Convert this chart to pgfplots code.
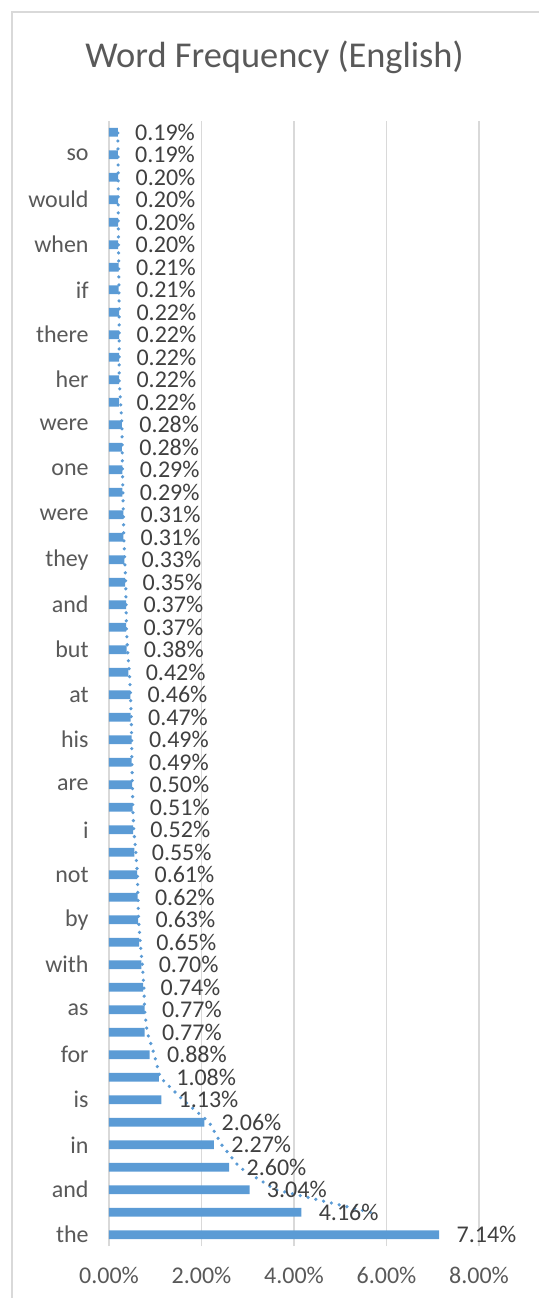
\documentclass[border=0pt]{standalone}
\usepackage{fontspec}
\setmainfont{Carlito}
\usepackage{pgfplots}
\usepackage{pgfplotstable}
\pgfplotsset{compat=1.18}
\usetikzlibrary{calc}
\definecolor{barblue}{HTML}{5B9BD5}
\definecolor{gridgray}{HTML}{D9D9D9}
\definecolor{tickgray}{HTML}{595959}
\definecolor{labelgray}{HTML}{404040}

% rank 0 = most frequent (bottom bar)
\pgfplotstableread{
idx val
0 7.14
1 4.16
2 3.04
3 2.60
4 2.27
5 2.06
6 1.13
7 1.08
8 0.88
9 0.77
10 0.77
11 0.74
12 0.70
13 0.65
14 0.63
15 0.62
16 0.61
17 0.55
18 0.52
19 0.51
20 0.50
21 0.49
22 0.49
23 0.47
24 0.46
25 0.42
26 0.38
27 0.37
28 0.37
29 0.35
30 0.33
31 0.31
32 0.31
33 0.29
34 0.29
35 0.28
36 0.28
37 0.22
38 0.22
39 0.22
40 0.22
41 0.22
42 0.21
43 0.21
44 0.20
45 0.20
46 0.20
47 0.20
48 0.19
49 0.19
}\freqdata

% 2-period moving average trendline
\pgfplotstableread{
idx val
1 5.65
2 3.60
3 2.82
4 2.435
5 2.165
6 1.595
7 1.105
8 0.98
9 0.825
10 0.77
11 0.755
12 0.72
13 0.675
14 0.64
15 0.625
16 0.615
17 0.58
18 0.535
19 0.515
20 0.505
21 0.495
22 0.49
23 0.48
24 0.465
25 0.44
26 0.40
27 0.375
28 0.37
29 0.36
30 0.34
31 0.32
32 0.31
33 0.30
34 0.29
35 0.285
36 0.28
37 0.25
38 0.22
39 0.22
40 0.22
41 0.22
42 0.215
43 0.21
44 0.205
45 0.20
46 0.20
47 0.20
48 0.195
49 0.19
}\trenddata

\begin{document}
\begin{tikzpicture}
\begin{axis}[
  name=ax,
  scale only axis, width=185pt, height=562.5pt,
  xbar, bar width=4.3pt,
  xmin=0, xmax=8, ymin=-0.5, ymax=49.5,
  xtick={0,2,4,6,8},
  xticklabels={0.00\%,2.00\%,4.00\%,6.00\%,8.00\%},
  ytick={0,2,...,48},
  yticklabels={the,and,in,is,for,as,with,by,not,i,are,his,at,but,and,they,were,one,were,her,there,if,when,would,so},
  xmajorgrids, grid style={gridgray, line width=0.9pt},
  axis line style={draw=none}, major tick length=0pt,
  tick label style={font=\fontsize{12}{14}\selectfont, text=tickgray},
  yticklabel style={anchor=east, inner sep=0pt, xshift=-10pt},
  xticklabel style={anchor=base, inner sep=0pt, yshift=-18.5pt},
  /pgf/number format/assume math mode=true,
  clip=false,
]
\addplot[fill=barblue, draw=none,
  point meta=x,
  nodes near coords={\pgfmathprintnumber[fixed,fixed zerofill,precision=2]{\pgfplotspointmeta}\%},
  nodes near coords style={anchor=west, inner sep=0pt, xshift=8.5pt,
    font=\fontsize{12}{14}\selectfont, text=labelgray},
] table[x=val, y=idx] {\freqdata};
\addplot[sharp plot, no marks, barblue, line width=1.8pt, line cap=round,
  dash pattern=on 0pt off 4pt] table[x=val, y=idx] {\trenddata};
\end{axis}
\node[anchor=base, font=\fontsize{18.2}{22}\selectfont, text=tickgray]
  at ($(ax.north west)+(82.75pt,26.5pt)$) {Word Frequency (English)};
\draw[gridgray, line width=0.75pt]
  ($(ax.south west)+(-48.5pt,-30pt)$) -- ($(ax.north west)+(-48.5pt,54.5pt)$)
  -- ($(ax.north west)+(220pt,54.5pt)$);
\pgfresetboundingbox
\useasboundingbox ($(ax.south west)+(-54.5pt,-26pt)$) rectangle ($(ax.north west)+(215pt,60.5pt)$);
\end{tikzpicture}
\end{document}
